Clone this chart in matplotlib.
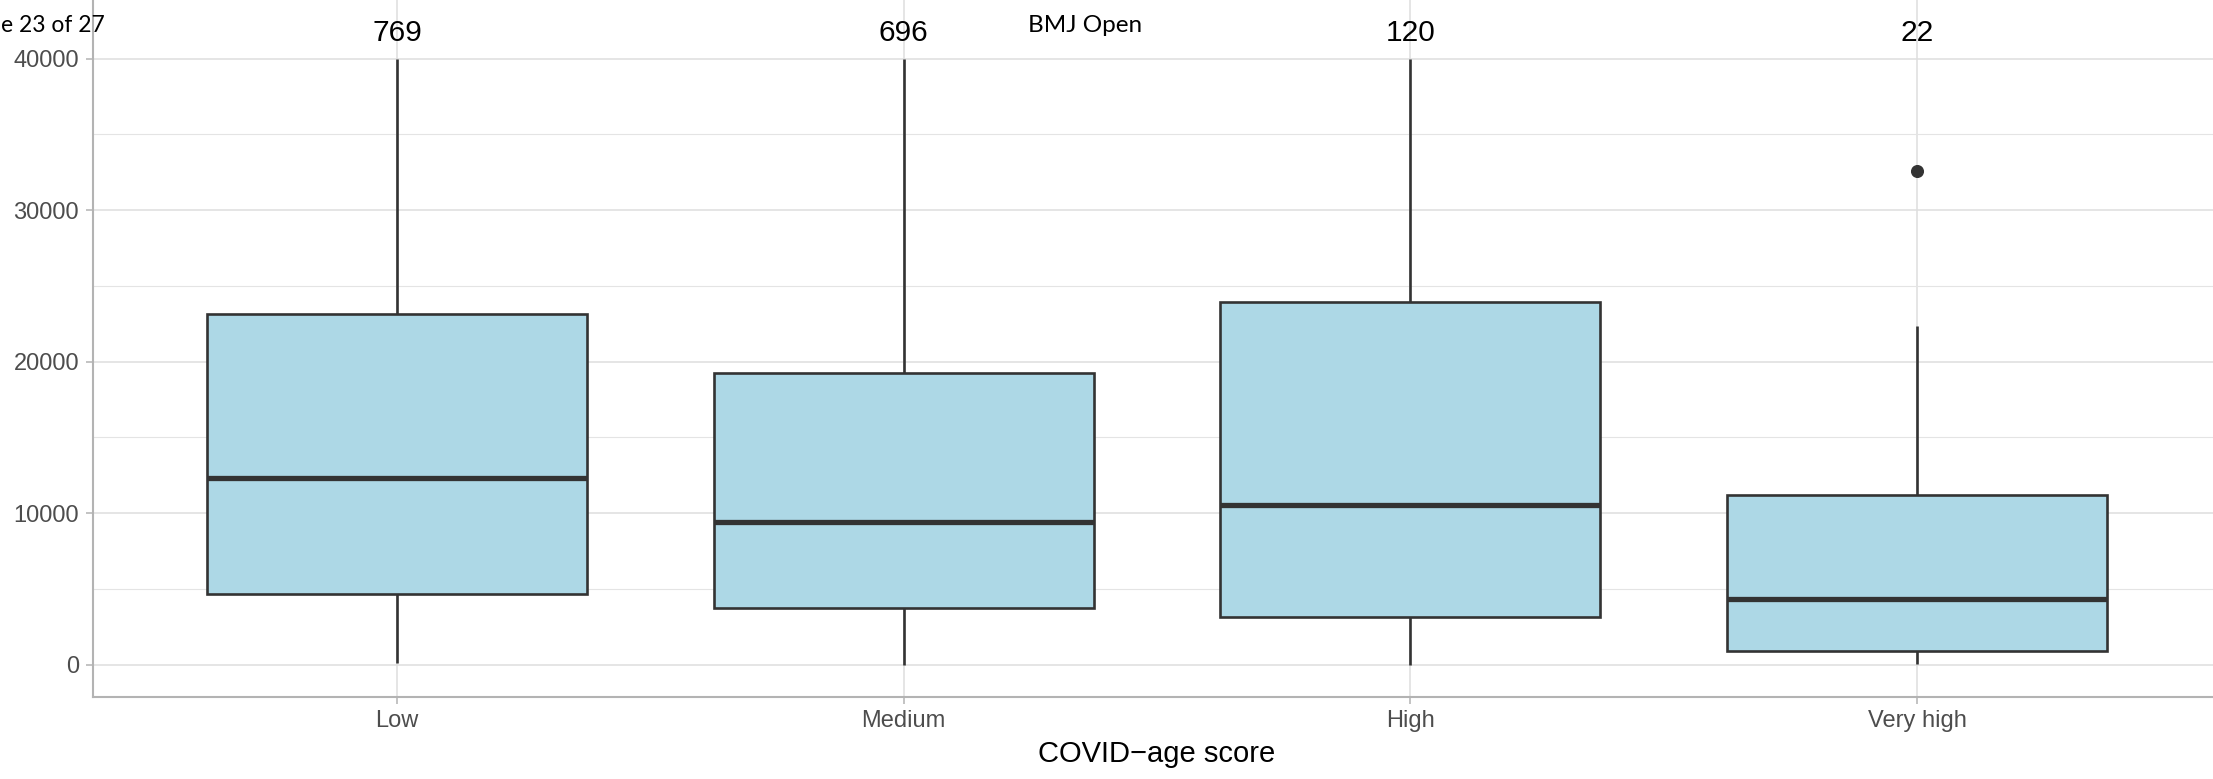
import matplotlib
matplotlib.use("Agg")
import matplotlib.pyplot as plt

# ---- data -------------------------------------------------------------
categories = ["Low", "Medium", "High", "Very high"]
counts = [769, 696, 120, 22]

q1 = [4670, 3720, 3170, 880]
medians = [12340, 9410, 10530, 4350]
q3 = [23150, 19280, 23940, 11210]
whisker_low = [130, 0, 0, 50]
whisker_high = [40000, 40000, 40000, 22380]
outliers = [[], [], [], [32570]]

y_major = [0, 10000, 20000, 30000, 40000]
y_minor = [5000, 15000, 25000, 35000]
count_label_y = 41700

# ---- figure -----------------------------------------------------------
W, H, DPI = 2213, 779, 100
fig = plt.figure(figsize=(W / DPI, H / DPI), dpi=DPI)
fig.patch.set_facecolor("white")

# panel extent in pixels (panel reaches a little past the top/right edges)
left_px, right_px, top_px, bottom_px = 93, 2221, -3.4, 696.5
ax = fig.add_axes([left_px / W, 1 - bottom_px / H,
                   (right_px - left_px) / W, (bottom_px - top_px) / H])

positions = list(range(1, len(categories) + 1))
stats = []
for i, cat in enumerate(categories):
    stats.append(dict(label=cat, med=medians[i], q1=q1[i], q3=q3[i],
                      whislo=whisker_low[i], whishi=whisker_high[i],
                      fliers=outliers[i]))

dark = "#333333"
ax.bxp(stats, positions=positions, widths=0.75, patch_artist=True,
       showcaps=False,
       boxprops=dict(facecolor="#ADD8E6", edgecolor=dark, linewidth=1.9),
       medianprops=dict(color=dark, linewidth=3.8, solid_capstyle="butt"),
       whiskerprops=dict(color=dark, linewidth=1.9, solid_capstyle="butt"),
       flierprops=dict(marker="o", markerfacecolor=dark, markeredgecolor=dark,
                       markersize=8.4))

# sample sizes above each box
for pos, n in zip(positions, counts):
    ax.text(pos, count_label_y, str(n), ha="center", va="center",
            fontsize=21.5, color="black", family="Liberation Sans",
            clip_on=False)

ax.set_xlim(0.4, 4.6)
ax.set_ylim(-2100, 44100)
ax.set_xticks(positions)
ax.set_xticklabels(categories)
ax.set_yticks(y_major)
ax.set_yticks(y_minor, minor=True)
ax.set_yticklabels([str(v) for v in y_major])

ax.set_axisbelow(True)
ax.grid(which="major", axis="both", color="#DEDEDE", linewidth=1.1)
ax.grid(which="minor", axis="y", color="#E4E4E4", linewidth=0.8)

for side in ["left", "bottom", "top", "right"]:
    ax.spines[side].set_color("#B3B3B3")
    ax.spines[side].set_linewidth(1.5)

ax.tick_params(axis="both", which="major", color="#B3B3B3", width=1.1,
               length=5, labelcolor="#4D4D4D", labelsize=17)
ax.tick_params(axis="y", which="major", pad=5)
ax.tick_params(axis="x", which="major", pad=4.5)
ax.tick_params(which="minor", length=0)
for lab in ax.get_xticklabels() + ax.get_yticklabels():
    lab.set_family("Liberation Sans")

ax.set_xlabel("COVID\u2212age score", fontsize=21, color="black",
              family="Liberation Sans")
ax.xaxis.label.set_va("center")
ax.xaxis.set_label_coords(0.5, (bottom_px - 754) / (bottom_px - top_px))

# page header text
fig.text(1 / W, 1 - 32 / H, "e 23 of 27", ha="left", va="baseline",
         fontsize=16.5, family="Lato", color="black")
fig.text(1028 / W, 1 - 32 / H, "BMJ Open", ha="left", va="baseline",
         fontsize=17.5, family="Lato", color="black")

fig.savefig("out.png", dpi=DPI, facecolor="white")
